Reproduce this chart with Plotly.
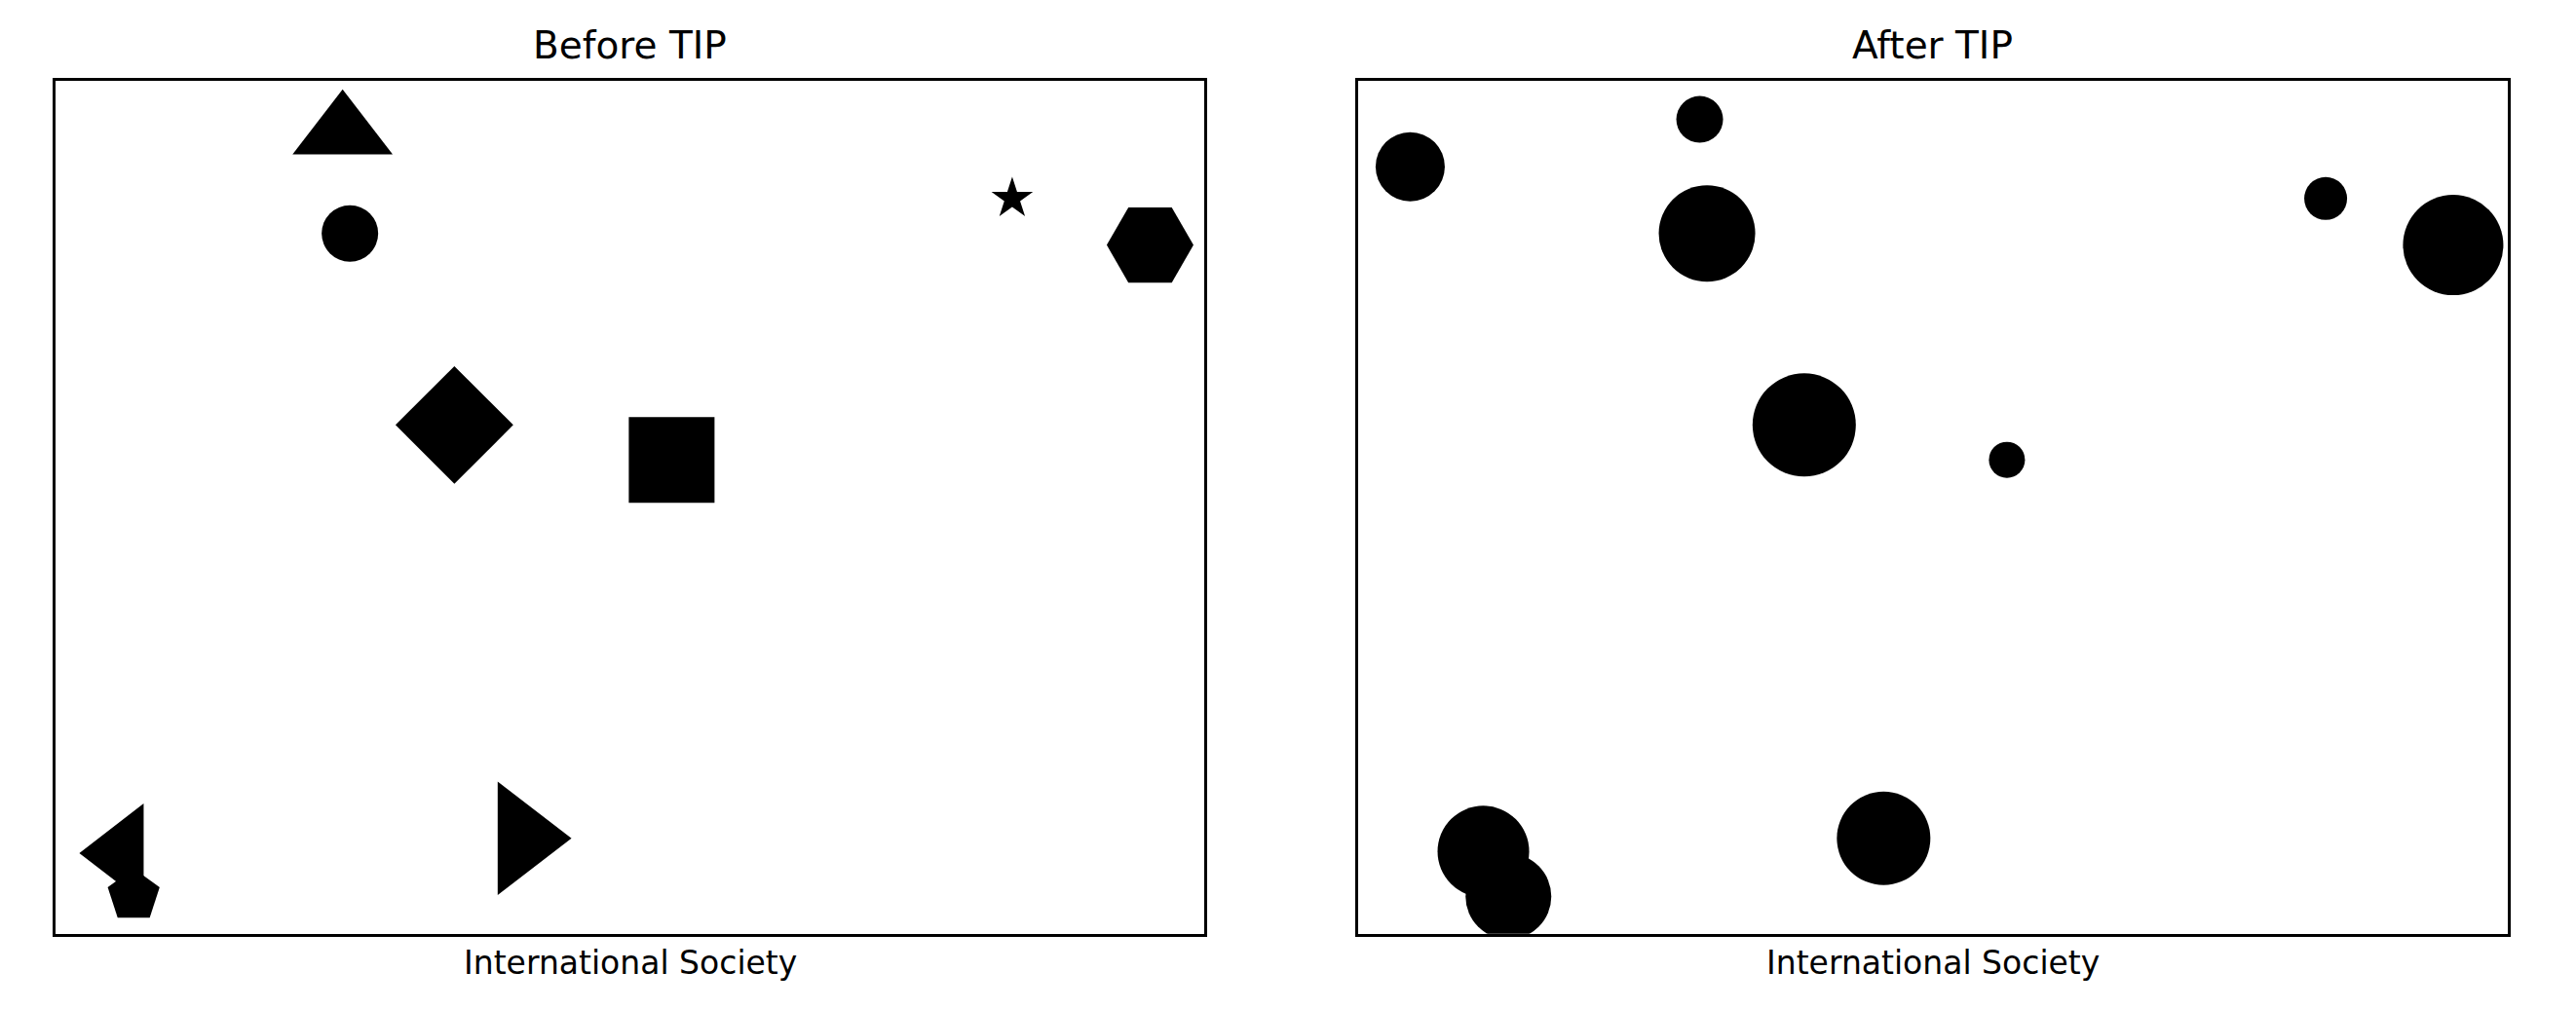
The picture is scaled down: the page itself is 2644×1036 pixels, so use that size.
import plotly.graph_objects as go

# ---- data (normalised units) ----
before_x = [0.225, 0.232, 0.332, 0.540, 0.866, 0.998, 0.014, 0.025, 0.397]
before_y = [0.983, 0.853, 0.606, 0.561, 0.898, 0.838, 0.054, -0.001, 0.073]
before_symbols = ["triangle-up", "circle", "diamond", "square", "star",
                  "hexagon2", "triangle-left", "pentagon", "triangle-right"]
before_sizes = [89, 58, 93, 88, 32, 89, 88, 56, 101]

after_x = [0.000, 0.277, 0.284, 0.876, 0.998, 0.377, 0.571, 0.070, 0.094, 0.453]
after_y = [0.939, 1.000, 0.853, 0.898, 0.838, 0.606, 0.561, 0.056, -0.002, 0.073]
after_sizes = [71, 48, 99, 44, 103, 106, 37, 94, 88, 96]

titles = ["Before TIP", "After TIP"]
xlabel = "International Society"

W, H = 2644, 1036
FONT = "DejaVu Sans"

fig = go.Figure()
fig.add_trace(go.Scatter(
    x=before_x, y=before_y, mode="markers", xaxis="x", yaxis="y",
    marker=dict(symbol=before_symbols, size=before_sizes, color="black",
                opacity=1, line=dict(width=0)),
    showlegend=False, hoverinfo="skip"))
fig.add_trace(go.Scatter(
    x=after_x, y=after_y, mode="markers", xaxis="x2", yaxis="y2",
    marker=dict(symbol="circle", size=after_sizes, color="black",
                opacity=1, line=dict(width=0)),
    showlegend=False, hoverinfo="skip"))

lw = 2.6
def px(v):
    return v / W
left_dom = [px(55.5 + lw / 2), px(1237.5 - lw / 2)]
right_dom = [px(1392.5 + lw / 2), px(2575 - lw / 2)]
y_dom = [(H - 960 + lw / 2) / H, (H - 81.5 - lw / 2) / H]

axis_common = dict(range=[-0.05, 1.05], showticklabels=False, ticks="",
                   showgrid=False, zeroline=False, showline=True,
                   linecolor="black", linewidth=lw, mirror=True, fixedrange=True)

fig.update_layout(
    width=W, height=H,
    margin=dict(l=0, r=0, t=0, b=0),
    paper_bgcolor="white", plot_bgcolor="white",
    font=dict(family=FONT, color="black"),
    xaxis=dict(domain=left_dom, anchor="y", **axis_common),
    yaxis=dict(domain=y_dom, anchor="x", **axis_common),
    xaxis2=dict(domain=right_dom, anchor="y2", **axis_common),
    yaxis2=dict(domain=y_dom, anchor="x2", **axis_common),
)

centers = [(left_dom[0] + left_dom[1]) / 2, (right_dom[0] + right_dom[1]) / 2]
for cx, t in zip(centers, titles):
    fig.add_annotation(x=cx, y=1 - 46 / H, xref="paper", yref="paper",
                       text=t, showarrow=False, xanchor="center", yanchor="middle",
                       font=dict(family=FONT, size=39, color="black"))
    fig.add_annotation(x=cx, y=1 - 988.5 / H, xref="paper", yref="paper",
                       text=xlabel, showarrow=False, xanchor="center", yanchor="middle",
                       font=dict(family=FONT, size=33, color="black"))

fig.write_html("out.html")
